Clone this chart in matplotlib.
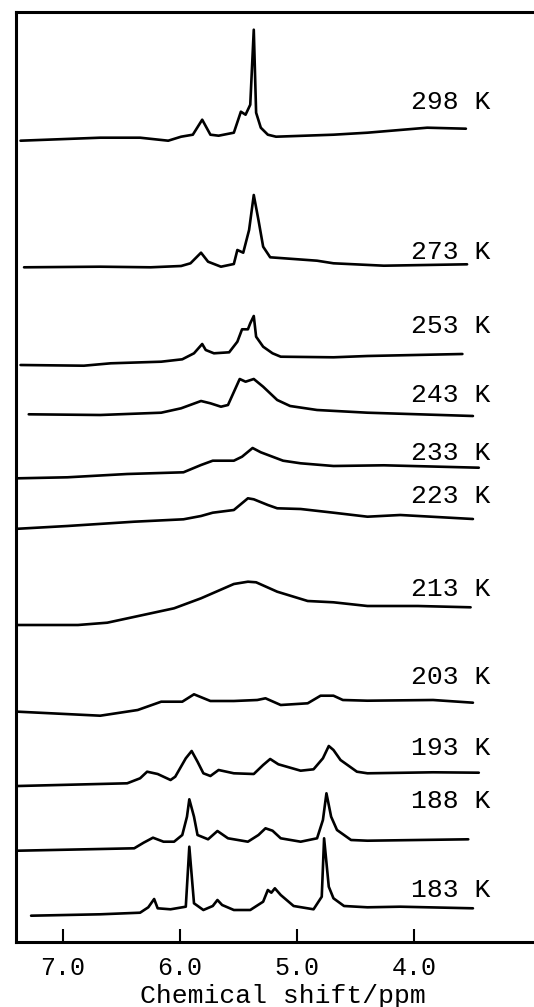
import matplotlib
matplotlib.use("Agg")
import matplotlib.pyplot as plt

# temperatures, baselines (stack offset) and label heights, top to bottom
temps = ["298 K", "273 K", "253 K", "243 K", "233 K", "223 K",
         "213 K", "203 K", "193 K", "188 K", "183 K"]
offsets = [801.3, 674.7, 577, 527.7, 463.7, 413, 317, 230.3, 156, 91.3, 26.3]
label_y = [840, 690, 616, 547, 489, 446, 353, 265, 194, 141, 52]

# traced spectra: chemical shift (ppm) and intensity above baseline
ppm_298 = [7.36, 6.68, 6.34, 6.10, 5.99, 5.89, 5.81, 5.74, 5.67, 5.54, 5.48, 5.44,
           5.40, 5.37, 5.35, 5.31, 5.25, 5.18, 4.69, 4.40, 3.89, 3.56]
int_298 = [0, 3, 3, 0, 4, 6, 21, 6, 5, 8, 29, 26, 36, 111, 28, 13, 6, 4, 6, 8, 13, 12]

ppm_273 = [7.33, 6.68, 6.25, 5.99, 5.91, 5.82, 5.76, 5.65, 5.54, 5.51, 5.46, 5.41,
           5.37, 5.33, 5.29, 5.23, 4.83, 4.69, 4.26, 3.55]
int_273 = [0, 0.6, 0, 1.3, 4, 14.6, 5.6, 0.6, 3.3, 17.3, 14.6, 37.3, 72.3, 47.3,
           20.6, 10, 6.6, 4, 1.6, 3]

ppm_253 = [7.36, 6.82, 6.59, 6.16, 5.98, 5.88, 5.81, 5.78, 5.71, 5.58, 5.51, 5.47,
           5.42, 5.40, 5.37, 5.35, 5.29, 5.21, 5.14, 4.69, 4.40, 3.59]
int_253 = [0, -0.7, 1.7, 3.3, 5.7, 11.7, 21, 15, 11.7, 12.7, 23.3, 35.7, 35.7, 41.7,
           49, 28.3, 18.3, 11.7, 8.3, 7.7, 9, 11]

ppm_243 = [7.29, 6.68, 6.16, 5.99, 5.82, 5.74, 5.65, 5.59, 5.49, 5.44, 5.37, 5.29,
           5.17, 5.06, 4.83, 4.40, 3.50]
int_243 = [0, -0.7, 1.6, 6, 13.3, 11, 7.6, 9.3, 35.3, 32.6, 35.3, 27.6, 14.3, 8.3,
           4.3, 1.6, -1.7]

ppm_233 = [7.38, 6.96, 6.45, 5.97, 5.82, 5.72, 5.54, 5.47, 5.38, 5.31, 5.12, 4.97,
           4.69, 4.26, 3.45]
int_233 = [0, 1, 4.3, 6, 13.3, 17.6, 17.6, 21.6, 30.3, 26, 17.6, 15, 12.3, 13, 10.6]

ppm_223 = [7.42, 6.96, 6.39, 5.97, 5.82, 5.72, 5.54, 5.42, 5.37, 5.25, 5.17, 4.97,
           4.69, 4.40, 4.12, 3.50]
int_223 = [0, 3, 7.3, 9.7, 13, 16.3, 19, 30.7, 29.7, 24, 20.7, 20, 16.3, 12.3, 14, 10]

ppm_213 = [7.38, 6.87, 6.62, 6.05, 5.82, 5.54, 5.42, 5.35, 5.17, 4.91, 4.69, 4.40,
           3.97, 3.52]
int_213 = [0, 0, 2.3, 16.7, 26.7, 41, 43.3, 42.7, 33.3, 24, 22.7, 19, 19, 17.7]

ppm_203 = [7.38, 6.68, 6.36, 6.16, 5.98, 5.88, 5.74, 5.54, 5.34, 5.27, 5.14, 4.91,
           4.80, 4.69, 4.61, 4.40, 3.84, 3.50]
int_203 = [0, -4, 1.7, 10, 10, 17.4, 10.7, 10.7, 11.7, 13.4, 6.7, 8.4, 16, 16, 11.7,
           11, 11.7, 9]

ppm_193 = [7.38, 6.45, 6.34, 6.28, 6.19, 6.08, 6.04, 5.95, 5.90, 5.85, 5.80, 5.74,
           5.67, 5.54, 5.37, 5.29, 5.23, 5.16, 4.97, 4.86, 4.78, 4.73, 4.69, 4.63,
           4.49, 4.40, 3.84, 3.45]
int_193 = [0, 2.7, 7.7, 14.3, 12, 6, 9.3, 27.7, 35, 24.3, 12.7, 10, 16, 12.7, 12, 21,
           27, 21.7, 15.3, 16.7, 27.7, 40, 36, 26, 14.3, 12.7, 13.7, 13.3]

ppm_188 = [7.38, 6.39, 6.31, 6.23, 6.14, 6.05, 5.98, 5.94, 5.92, 5.88, 5.85, 5.76,
           5.68, 5.59, 5.42, 5.33, 5.27, 5.21, 5.14, 4.97, 4.83, 4.78, 4.75, 4.71,
           4.66, 4.54, 4.40, 3.54]
int_188 = [0, 2.4, 8, 13, 9, 9, 15.7, 34, 51.4, 34, 15.7, 11.4, 19.7, 12.4, 9, 15.7,
           22.4, 20, 12.4, 9, 12.4, 30.7, 57.4, 34, 20.7, 10.7, 10, 11.4]

ppm_183 = [7.27, 6.68, 6.34, 6.27, 6.22, 6.19, 6.08, 5.95, 5.92, 5.88, 5.80,
           5.72, 5.68, 5.64, 5.54, 5.40, 5.29, 5.25, 5.22, 5.19, 5.14, 5.03, 4.86,
           4.79, 4.77, 4.73, 4.69, 4.60, 4.40, 4.12, 3.50]
int_183 = [0, 1.4, 3, 8.4, 16.7, 7.4, 6.4, 9, 69, 12.4, 5.7, 9.7, 15.7, 10.7, 5.7,
           5.7, 14, 25.7, 23, 27.4, 20.7, 9.7, 6.4, 19, 77.4, 29, 17.4, 9.7, 8.4, 9,
           7.4]

shifts = [ppm_298, ppm_273, ppm_253, ppm_243, ppm_233, ppm_223,
          ppm_213, ppm_203, ppm_193, ppm_188, ppm_183]
intensities = [int_298, int_273, int_253, int_243, int_233, int_223,
               int_213, int_203, int_193, int_188, int_183]

xticks = [7.0, 6.0, 5.0, 4.0]
xtick_labels = ["7.0", "6.0", "5.0", "4.0"]

W, H = 534, 1007
fig = plt.figure(figsize=(W / 100, H / 100), dpi=100)
left, bottom, top = 15.5, 942, 11.5
ax = fig.add_axes([left / W, (H - bottom) / H, 1 - left / W, (bottom - top) / H])

mono = "Liberation Mono"

for x, y, off in zip(shifts, intensities, offsets):
    ax.plot(x, [v + off for v in y], color="black", lw=1.9,
            solid_joinstyle="round", solid_capstyle="round")

for name, ly in zip(temps, label_y):
    ax.text(4.03, ly, name, family=mono, fontsize=19, ha="left", va="center")

ax.set_xlim(7.403, 2.979)
ax.set_ylim(0, bottom - top)

for side in ["left", "top", "bottom"]:
    ax.spines[side].set_linewidth(2.2)
ax.spines["right"].set_visible(False)

ax.set_yticks([])
ax.set_xticks(xticks)
ax.set_xticklabels(xtick_labels, family=mono, fontsize=18)
ax.tick_params(axis="x", direction="in", length=9.5, width=1.5, pad=10)

fig.text(282.5 / W, (H - 1003) / H, "Chemical shift/ppm", family=mono,
         fontsize=19, ha="center", va="baseline")

fig.savefig("out.png", dpi=100)
